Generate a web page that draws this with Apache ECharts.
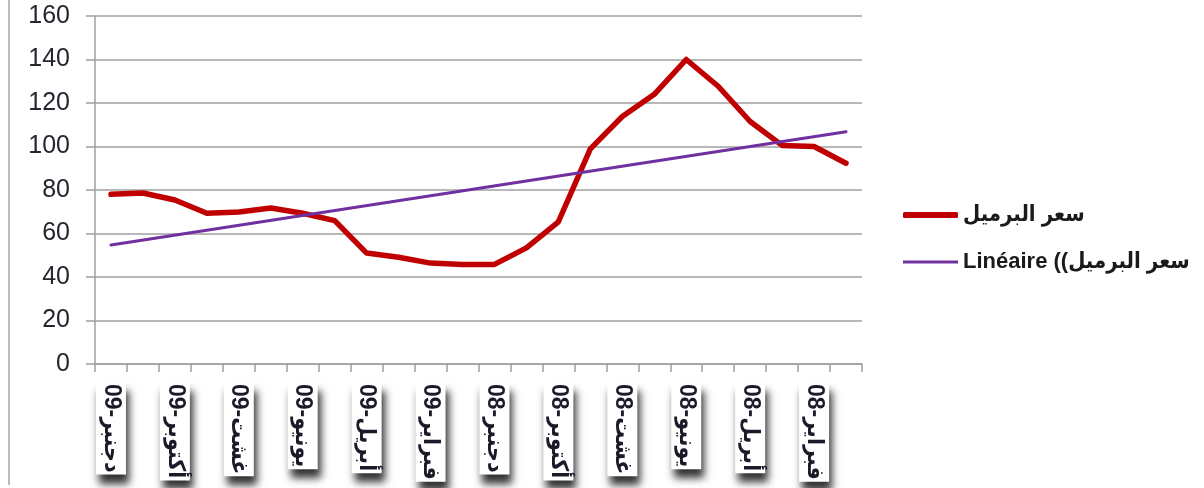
<!DOCTYPE html>
<html>
<head>
<meta charset="utf-8">
<script src="https://cdn.jsdelivr.net/npm/echarts@6/dist/echarts.min.js"></script>
<style>
html,body{margin:0;padding:0;background:#fff;}
#chart{width:1204px;height:488px;}
</style>
</head>
<body>
<div id="chart"></div>
<script>
// Categories (most recent month on the left)
const categories = [
  'دجنبر-09','نونبر-09','أكتوبر-09','شتنبر-09','غشت-09','يوليوز-09',
  'يونيو-09','ماي-09','أبريل-09','مارس-09','فبراير-09','يناير-09',
  'دجنبر-08','نونبر-08','أكتوبر-08','شتنبر-08','غشت-08','يوليوز-08',
  'يونيو-08','ماي-08','أبريل-08','مارس-08','فبراير-08','يناير-08'
];
// Barrel price
const priceValues = [
  78.0, 78.6, 75.4, 69.3, 69.9, 71.7, 69.3, 65.9, 51.0, 49.1, 46.4, 45.8,
  45.8, 53.4, 65.4, 98.9, 113.8, 124.0, 140.0, 127.7, 111.5, 100.5, 100.0, 92.3
];
// Linear trendline endpoints (first and last category)
const trendValues = [54.7, 106.8];
const yTicks = [0, 20, 40, 60, 80, 100, 120, 140, 160];

const seriesName = 'سعر البرميل';
const trendName = 'Linéaire ((سعر البرميل';

const chart = echarts.init(document.getElementById('chart'));
const FONT = '"Liberation Sans", "DejaVu Sans Condensed", "DejaVu Sans", Arial, sans-serif';
const legendText = { fontFamily: FONT, fontSize: 22, fontWeight: 'bold', color: '#1a1a1a', lineHeight: 24 };

chart.setOption({
  animation: false,
  backgroundColor: '#ffffff',
  grid: { left: 95, right: 342, top: 16, bottom: 124, containLabel: false },
  legend: [
    {
      orient: 'vertical',
      left: 903,
      top: 203,
      padding: 0,
      itemWidth: 55,
      itemHeight: 6,
      icon: 'roundRect',
      itemStyle: { color: '#c00000', borderWidth: 0 },
      textStyle: legendText,
      data: [{ name: seriesName }]
    },
    {
      orient: 'vertical',
      left: 903,
      top: 250,
      padding: 0,
      itemWidth: 55,
      itemHeight: 3,
      icon: 'rect',
      itemStyle: { color: '#7030a0', borderWidth: 0 },
      textStyle: legendText,
      data: [{ name: trendName }]
    }
  ],
  xAxis: {
    type: 'category',
    data: categories,
    boundaryGap: true,
    axisLine: { show: true, lineStyle: { color: '#a0a0a0', width: 1.5 } },
    axisTick: { show: true, interval: 0, length: 8, lineStyle: { color: '#a0a0a0', width: 1.5 } },
    axisLabel: {
      interval: 1,
      rotate: -90,
      margin: 18,
      fontFamily: FONT,
      fontSize: 23,
      fontWeight: 'bold',
      color: '#1a1a28',
      lineHeight: 28,
      backgroundColor: '#ffffff',
      padding: [1, 2, 1, 2],
      shadowColor: 'rgba(0,0,0,0.8)',
      shadowBlur: 8,
      shadowOffsetX: 3,
      shadowOffsetY: 9
    },
    splitLine: { show: false }
  },
  yAxis: {
    type: 'value',
    min: yTicks[0],
    max: yTicks[yTicks.length - 1],
    interval: yTicks[1] - yTicks[0],
    axisLine: { show: true, lineStyle: { color: '#a0a0a0', width: 1.5 } },
    axisTick: { show: true, length: 9, lineStyle: { color: '#a0a0a0', width: 1.5 } },
    axisLabel: { margin: 25, fontFamily: FONT, fontSize: 25, color: '#262630' },
    splitLine: { show: true, lineStyle: { color: '#a0a0a0', width: 1.5 } }
  },
  series: [
    {
      name: seriesName,
      type: 'line',
      data: priceValues,
      symbol: 'none',
      lineStyle: { color: '#c00000', width: 5.5, cap: 'round', join: 'round' },
      itemStyle: { color: '#c00000' },
      z: 3
    },
    {
      name: trendName,
      type: 'line',
      data: [[categories[0], trendValues[0]], [categories[categories.length - 1], trendValues[1]]],
      symbol: 'none',
      lineStyle: { color: '#7030a0', width: 3, cap: 'round' },
      itemStyle: { color: '#7030a0' },
      z: 4
    }
  ],
  graphic: [
    {
      type: 'line',
      shape: { x1: 9, y1: 0, x2: 9, y2: 485 },
      style: { stroke: '#a6a6a6', lineWidth: 1.5 },
      silent: true
    }
  ]
});
</script>
</body>
</html>
